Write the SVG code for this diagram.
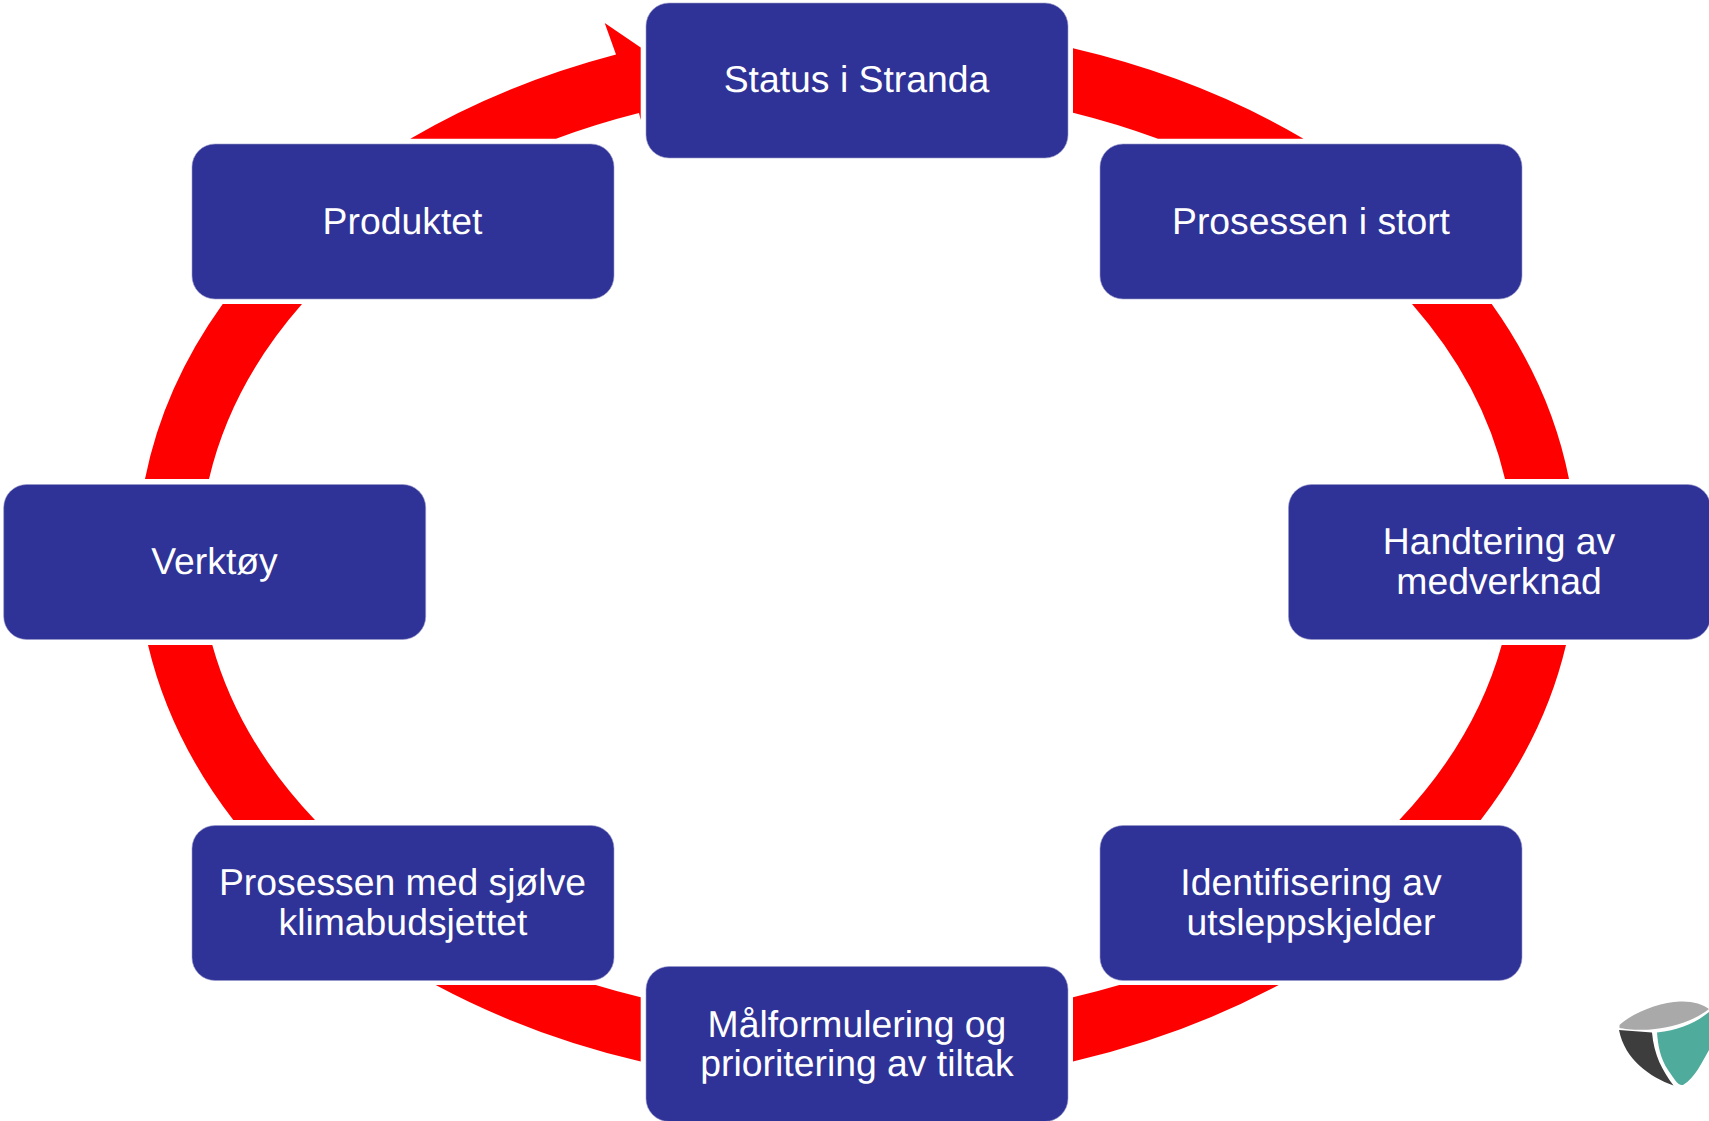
<svg xmlns="http://www.w3.org/2000/svg" width="1709" height="1121" viewBox="0 0 1709 1121">
<style>
.box{fill:#2f3296;stroke:#9a9bcb;stroke-width:.6}
.t{fill:#fff;font-family:"Liberation Sans",Arial,sans-serif;font-size:37.33px;text-anchor:middle;text-rendering:geometricPrecision}
.arc{fill:#f00}
</style>
<rect width="1709" height="1121" fill="#fff"/>
<g id="connectors" class="arc">
<path d="M1073,48.3 A720.5,538 0 0 1 1303.5,138.7 L1158,138.7 A658,475 0 0 0 1073,112.7 Z"/>
<path d="M1491.7,304 A720.5,538 0 0 1 1569,479 L1505,479 A658,475 0 0 0 1412,304 Z"/>
<path d="M1566,645 A720.5,538 0 0 1 1480.7,820 L1399.3,820 A658,475 0 0 0 1501.7,645 Z"/>
<path d="M1278.7,985 A720.5,534 0 0 1 1073,1061.5 L1073,997.3 A658,475 0 0 0 1119.3,985 Z"/>
<path d="M640.7,1061.5 A720.5,534 0 0 1 435.7,985 L595.7,985 A658,475 0 0 0 640.7,997.3 Z"/>
<path d="M233.3,820 A720.5,538 0 0 1 148,645 L212.3,645 A658,475 0 0 0 315,820 Z"/>
<path d="M145,479 A720.5,538 0 0 1 222.7,304 L302,304 A658,475 0 0 0 209,479 Z"/>
<path d="M410.3,138.7 A720.5,538 0 0 1 616,54.5 L604.7,23 L640.7,47.5 L640.7,120 L639,113 A658,475 0 0 0 556,138.7 Z"/>
</g>
<g id="node-status"><rect class="box" x="646" y="3" width="422" height="155" rx="23"/><text class="t" x="856.5" y="91.5">Status i Stranda</text></g>
<g id="node-prosessen-stort"><rect class="box" x="1100" y="144" width="422" height="155" rx="23"/><text class="t" x="1311" y="233.5">Prosessen i stort</text></g>
<g id="node-handtering"><rect class="box" x="1288.5" y="484.5" width="422" height="155" rx="23"/><text class="t" x="1499" y="554">Handtering av</text><text class="t" x="1499" y="594">medverknad</text></g>
<g id="node-identifisering"><rect class="box" x="1100" y="825.5" width="422" height="155" rx="23"/><text class="t" x="1311" y="895">Identifisering av</text><text class="t" x="1311" y="935">utsleppskjelder</text></g>
<g id="node-malformulering"><rect class="box" x="646" y="966.5" width="422" height="155" rx="23"/><text class="t" x="857" y="1036.5">Målformulering og</text><text class="t" x="857" y="1076">prioritering av tiltak</text></g>
<g id="node-prosessen-sjolve"><rect class="box" x="192" y="825.5" width="422" height="155" rx="23"/><text class="t" x="402.5" y="895">Prosessen med sjølve</text><text class="t" x="403" y="935">klimabudsjettet</text></g>
<g id="node-verktoy"><rect class="box" x="3.7" y="484.5" width="422" height="155" rx="23"/><text class="t" x="214.5" y="574">Verktøy</text></g>
<g id="node-produktet"><rect class="box" x="192" y="144" width="422" height="155" rx="23"/><text class="t" x="402.5" y="233.5">Produktet</text></g>
<g id="logo">
<path fill="#a9a9a9" d="M1619.5,1025 C1632,1013 1660,1002 1680,1001.5 C1692,1001 1703,1004 1709,1009 C1695,1020 1675,1027 1655,1029 C1640,1031 1625,1029 1619.5,1028 Z"/>
<path fill="#3d3d3d" d="M1619,1030 L1652,1032.5 C1654,1055 1662,1070 1673.5,1085.5 C1650,1077 1625,1060 1619,1030 Z"/>
<path fill="#4fab9b" d="M1657,1032.5 C1680,1030 1697,1022 1709,1012 L1709,1050 C1702,1062 1695,1078 1683,1085 C1678,1086 1675,1080 1668,1070 C1660,1058 1658,1045 1657,1032.5 Z"/>
</g>
</svg>
